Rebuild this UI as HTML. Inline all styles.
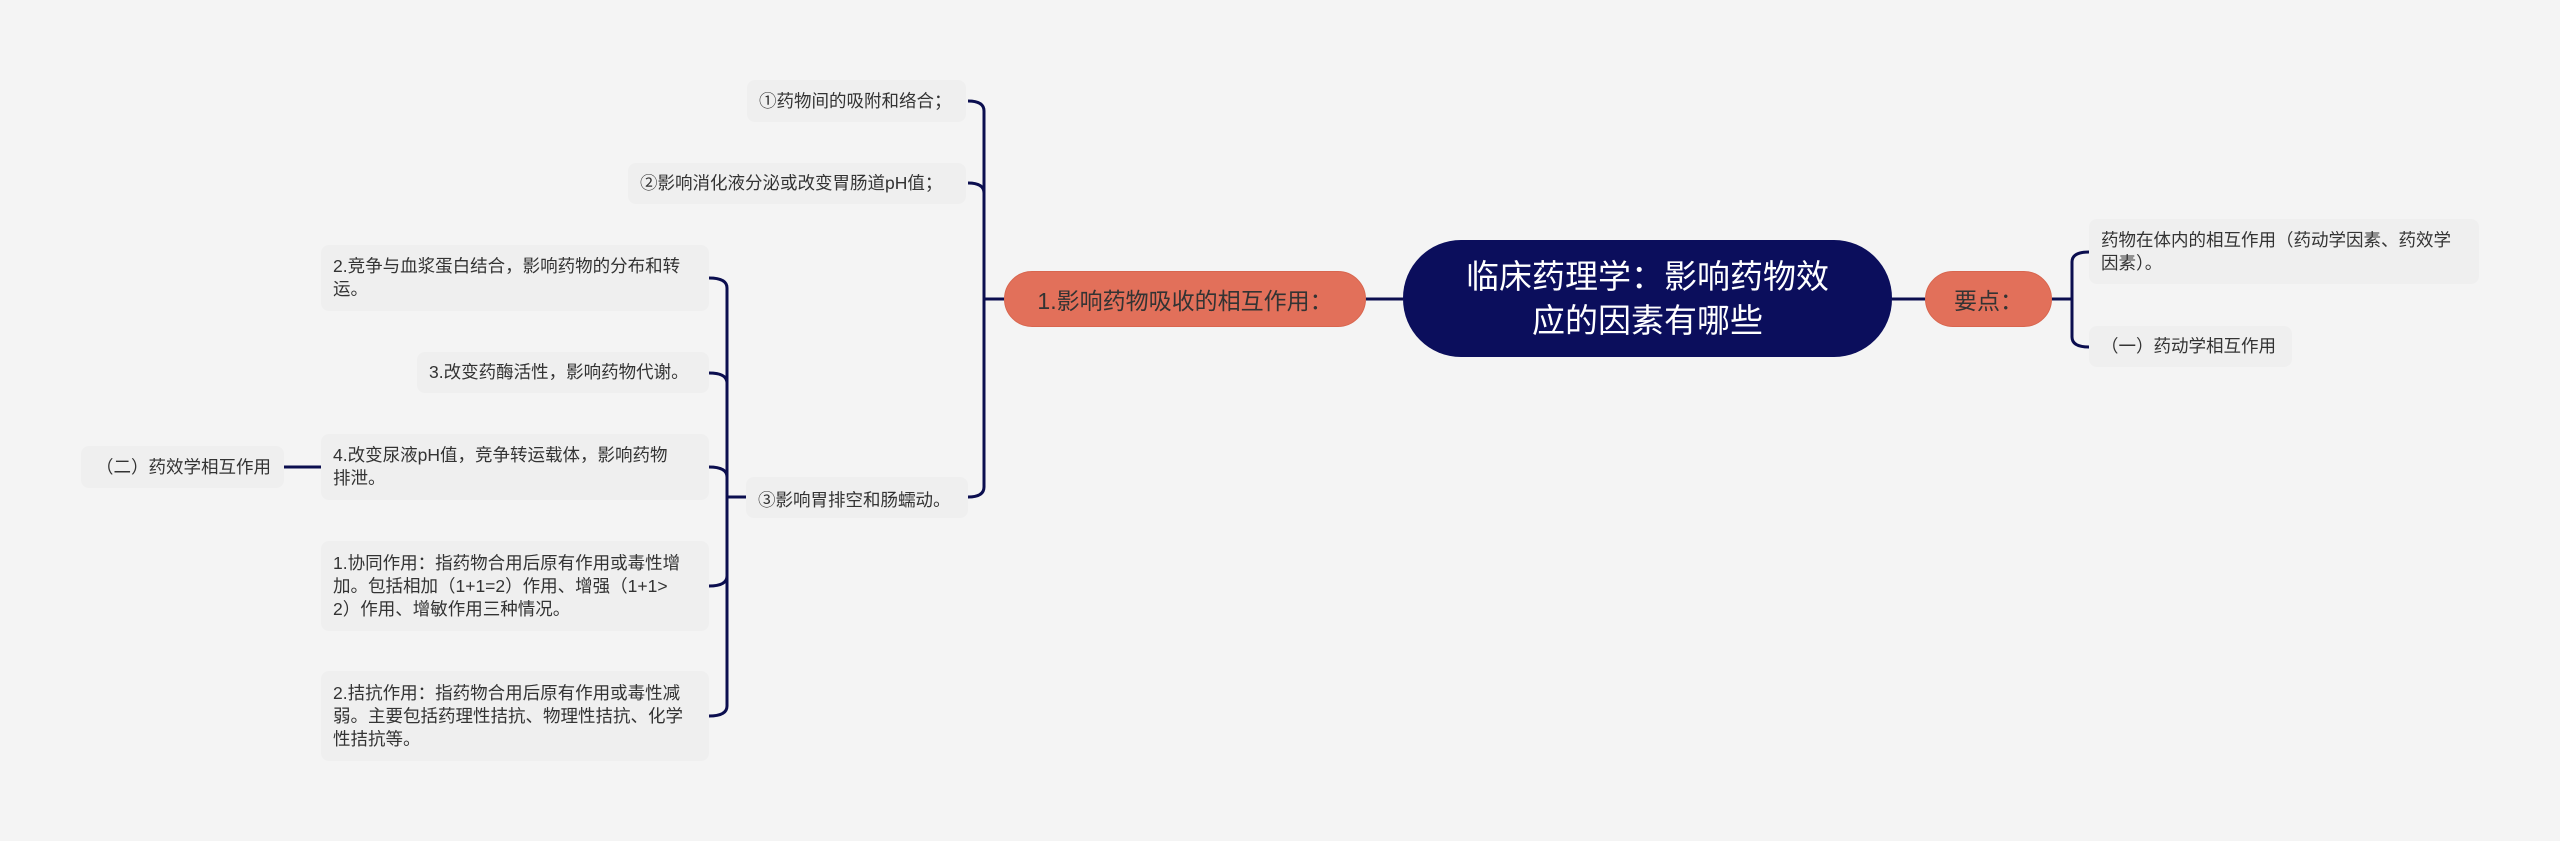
<!DOCTYPE html>
<html><head><meta charset="utf-8"><style>
body{margin:0;width:2560px;height:841px;background:#f4f4f4;position:relative;overflow:hidden;font-family:"Liberation Sans","Noto Sans CJK SC",sans-serif;}
.n{position:absolute;box-sizing:border-box;background:#efefef;border-radius:8px;color:#333;font-size:17.5px;line-height:23px;padding:0 10px 0 12px;display:flex;align-items:center;white-space:nowrap;}
.o{position:absolute;box-sizing:border-box;background:#e2705a;border:1px solid #d8664f;color:#333;font-size:23px;display:flex;align-items:center;justify-content:center;border-radius:30px;}
svg{position:absolute;left:0;top:0;}
</style></head><body>
<svg width="2560" height="841" fill="none" stroke="#0b0e4f" stroke-width="3">
<path d="M1892 299 H1925"/>
<path d="M1366 299 H1403"/>
<path d="M2052 299 H2072"/>
<path d="M2072 299 V262 Q2072 252 2089 252"/>
<path d="M2072 299 V337 Q2072 347 2089 347"/>
<path d="M1004 299 H984"/>
<path d="M984 299 V111 Q984 101 968 101"/>
<path d="M984 299 V193 Q984 183 968 183"/>
<path d="M984 299 V487 Q984 497 968 497"/>
<path d="M746 497 H727"/>
<path d="M727 497 V288 Q727 278 709 278"/>
<path d="M727 497 V383 Q727 373 709 373"/>
<path d="M727 497 V477 Q727 467 709 467"/>
<path d="M727 497 V576 Q727 586 709 586"/>
<path d="M727 497 V706 Q727 716 709 716"/>
<path d="M321 467 H284"/>
</svg>
<div style="position:absolute;left:1403px;top:240px;width:489px;height:117px;background:#0b0e5c;border-radius:58px;color:#fff;font-size:33px;line-height:44px;text-align:center;display:flex;align-items:center;justify-content:center;">临床药理学：影响药物效<br>应的因素有哪些</div>
<div class="o" style="left:1925px;top:271px;width:127px;height:56px;">要点：</div>
<div class="o" style="left:1004px;top:271px;width:362px;height:56px;">1.影响药物吸收的相互作用：</div>
<div class="n" style="left:2089px;top:219px;width:390px;height:65px;">药物在体内的相互作用（药动学因素、药效学<br>因素）。</div>
<div class="n" style="left:2089px;top:326px;width:203px;height:41px;">（一）药动学相互作用</div>
<div class="n" style="left:747px;top:80px;width:219px;height:42px;">①药物间的吸附和络合；</div>
<div class="n" style="left:628px;top:163px;width:338px;height:41px;">②影响消化液分泌或改变胃肠道pH值；</div>
<div class="n" style="left:746px;top:477px;width:222px;height:41px;padding-top:6px;">③影响胃排空和肠蠕动。</div>
<div class="n" style="left:321px;top:245px;width:388px;height:66px;">2.竞争与血浆蛋白结合，影响药物的分布和转<br>运。</div>
<div class="n" style="left:417px;top:352px;width:292px;height:41px;">3.改变药酶活性，影响药物代谢。</div>
<div class="n" style="left:321px;top:434px;width:388px;height:66px;">4.改变尿液pH值，竞争转运载体，影响药物<br>排泄。</div>
<div class="n" style="left:321px;top:541px;width:388px;height:90px;">1.协同作用：指药物合用后原有作用或毒性增<br>加。包括相加（1+1=2）作用、增强（1+1&gt;<br>2）作用、增敏作用三种情况。</div>
<div class="n" style="left:321px;top:671px;width:388px;height:90px;">2.拮抗作用：指药物合用后原有作用或毒性减<br>弱。主要包括药理性拮抗、物理性拮抗、化学<br>性拮抗等。</div>
<div class="n" style="left:81px;top:446px;width:203px;height:42px;justify-content:center;">（二）药效学相互作用</div>
</body></html>
